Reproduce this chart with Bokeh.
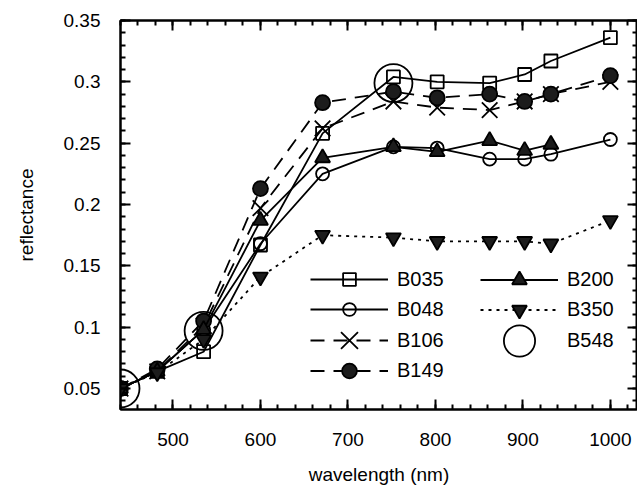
from bokeh.plotting import figure
from bokeh.models import (Range1d, LinearAxis, SingleIntervalTicker, NumeralTickFormatter,
                          CustomJSTickFormatter, Legend, LegendItem)
from bokeh.embed import file_html
from bokeh.resources import INLINE

# ---- data ----
wavelength = [440, 482, 535, 600, 671, 752, 802, 862, 902, 932, 1000]
wavelength_b200 = [440, 482, 535, 600, 671, 752, 802, 862, 902, 932]
wavelength_b548 = [440, 535, 752]

b035 = [0.050, 0.064, 0.080, 0.167, 0.258, 0.304, 0.300, 0.299, 0.306, 0.317, 0.336]
b048 = [0.050, 0.064, 0.098, 0.168, 0.225, 0.247, 0.246, 0.237, 0.237, 0.241, 0.253]
b106 = [0.050, 0.064, 0.101, 0.197, 0.262, 0.284, 0.279, 0.277, 0.284, 0.290, 0.300]
b149 = [0.050, 0.066, 0.105, 0.213, 0.283, 0.292, 0.287, 0.290, 0.284, 0.290, 0.305]
b200 = [0.050, 0.064, 0.098, 0.187, 0.238, 0.247, 0.243, 0.252, 0.244, 0.249]
b350 = [0.050, 0.063, 0.090, 0.141, 0.175, 0.173, 0.170, 0.170, 0.170, 0.168, 0.187]
b548 = [0.050, 0.097, 0.299]

FONT = "Liberation Sans"

p = figure(width=637, height=489, output_backend="svg", toolbar_location=None,
           x_range=Range1d(440, 1031), y_range=Range1d(0.0329, 0.35001),
           min_border_left=120, min_border_right=0, min_border_top=20, min_border_bottom=80,
           x_axis_label="wavelength (nm)", y_axis_label="reflectance")
p.grid.visible = False
p.outline_line_color = "black"
p.outline_line_width = 2
p.background_fill_color = "white"
p.border_fill_color = "white"

def style_axis(ax, labels=True):
    ax.axis_line_width = 2
    ax.axis_line_color = "black"
    ax.major_tick_in = 10
    ax.major_tick_out = 0
    ax.minor_tick_in = 5
    ax.minor_tick_out = 0
    ax.major_tick_line_width = 2
    ax.minor_tick_line_width = 2
    ax.major_tick_line_color = "black"
    ax.minor_tick_line_color = "black"
    if labels:
        ax.major_label_text_font = FONT
        ax.major_label_text_font_size = "19px"
        ax.major_label_text_color = "black"
        ax.axis_label_text_font = FONT
        ax.axis_label_text_font_size = "19px"
        ax.axis_label_text_font_style = "normal"
        ax.axis_label_text_color = "black"
    else:
        ax.formatter = CustomJSTickFormatter(code="return ''")
        ax.major_label_standoff = 0

xa = p.xaxis[0]
xa.ticker = SingleIntervalTicker(interval=100, num_minor_ticks=5)
style_axis(xa)
xa.major_label_standoff = 23
xa.axis_label_standoff = 15

ya = p.yaxis[0]
ya.ticker = SingleIntervalTicker(interval=0.05, num_minor_ticks=5)
ya.formatter = NumeralTickFormatter(format="0.[00]")
style_axis(ya)
ya.major_label_standoff = 20
ya.axis_label_standoff = 24

top = LinearAxis(ticker=SingleIntervalTicker(interval=100, num_minor_ticks=5))
style_axis(top, labels=False)
p.add_layout(top, "above")
right = LinearAxis(ticker=SingleIntervalTicker(interval=0.05, num_minor_ticks=5))
style_axis(right, labels=False)
p.add_layout(right, "right")

FILL = "#1c1c1c"
LW = 1.8

def series(x, y, marker, size, dash, filled):
    r_line = p.line(x, y, line_color="black", line_width=LW, line_dash=dash)
    r_pt = p.scatter(x, y, marker=marker, size=size, line_color="black", line_width=1.8,
                     fill_color=FILL if filled else None,
                     fill_alpha=1.0 if filled else 0.0)
    return [r_line, r_pt]

r035 = series(wavelength, b035, "square", 13, "solid", False)
r048 = series(wavelength, b048, "circle", 13, "solid", False)
r106 = series(wavelength, b106, "x", 22, "14 9", False)
r149 = series(wavelength, b149, "circle", 15, "14 9", True)
r200 = series(wavelength_b200, b200, "triangle", 15, "solid", True)
r350 = series(wavelength, b350, "inverted_triangle", 15, "3 5", True)
r548 = [p.scatter(wavelength_b548, b548, marker="circle", size=38, line_color="black",
                  line_width=1.8, fill_alpha=0.0)]

# ---- legends: one per entry so each marker keeps its own size ----
GW = 78
FRAME_BOTTOM = 409

def add_legend(label, rends, x_off, row_center, marker_size):
    gh = max(30, marker_size / 0.4)
    center_from_bottom = FRAME_BOTTOM - row_center
    lg = Legend(items=[LegendItem(label=label, renderers=rends)],
                location=(x_off, center_from_bottom - gh / 2),
                glyph_width=GW, glyph_height=int(gh), label_height=int(gh),
                label_standoff=9, padding=0, margin=0, spacing=0,
                border_line_alpha=0, background_fill_alpha=0,
                label_text_font=FONT, label_text_font_size="20px",
                label_text_color="black")
    p.add_layout(lg, "center")

add_legend("B035", r035, 190, 279, 13)
add_legend("B048", r048, 190, 309, 13)
add_legend("B106", r106, 190, 340, 24)
add_legend("B149", r149, 190, 370, 15)
add_legend("B200", r200, 360, 279, 15)
add_legend("B350", r350, 360, 309, 15)
add_legend("B548", r548, 360, 340, 38)

open("out.html", "w").write(file_html(p, INLINE))
